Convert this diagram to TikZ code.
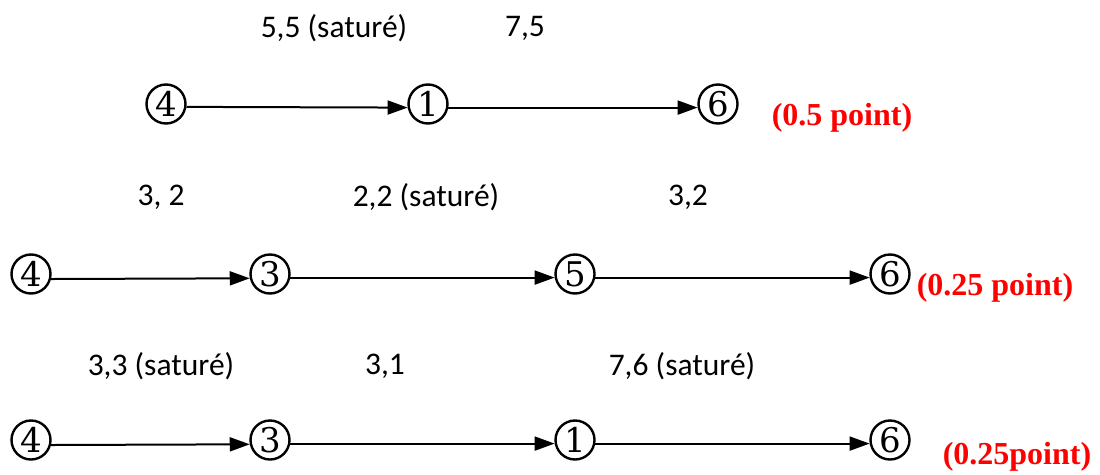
\documentclass[tikz,border=0pt]{standalone}
\usepackage{fontspec}
\setmainfont{Carlito}
\newfontfamily\redfont{Liberation Serif}
\newfontfamily\digfont{DejaVu Serif}
\usetikzlibrary{arrows.meta}
\begin{document}
\begin{tikzpicture}[x=1pt,y=-1pt,
  vtx/.style={circle,draw,line width=2.4pt,minimum size=39pt,inner sep=0pt,font=\digfont\fontsize{34}{34}\selectfont},
  lbl/.style={font=\fontsize{31.5}{31.5}\selectfont,inner sep=0pt},
  pts/.style={font=\redfont\bfseries\fontsize{32}{32}\selectfont,text=red,inner sep=0pt},
  arc/.style={line width=2pt,-{Triangle[length=20pt,width=14pt]}}]
\useasboundingbox (0,0) rectangle (1100,474);
% row 1
\node[vtx] (a4) at (166,104) {4};
\node[vtx] (a1) at (428,104) {1};
\node[vtx] (a6) at (718,104) {6};
\draw[arc] (a4.-8) -- (a1.190);
\draw[arc] (a1.-10) -- (a6.190);
\node[lbl] (la) at (334,28) {5,5 (saturé)};
\node[lbl] (lb) at (525,28) {7,5};
\node[pts] (pa) at (842,118) {(0.5 point)};
% row 2
\node[vtx] (b4) at (31,274) {4};
\node[vtx] (b3) at (270,274) {3};
\node[vtx] (b5) at (575,274) {5};
\node[vtx] (b6) at (890,274) {6};
\draw[arc] (b4.-14) -- (b3.192);
\draw[arc] (b3.-10) -- (b5.190);
\draw[arc] (b5.-10) -- (b6.190);
\node[lbl] (lc) at (161,197) {3, 2};
\node[lbl] (ld) at (426,197) {2,2 (saturé)};
\node[lbl] (le) at (688,197) {3,2};
\node[pts] (pb) at (995,288) {(0.25 point)};
% row 3
\node[vtx] (c4) at (31,440) {4};
\node[vtx] (c3) at (270,440) {3};
\node[vtx] (c1) at (575,440) {1};
\node[vtx] (c6) at (890,440) {6};
\draw[arc] (c4.-14) -- (c3.192);
\draw[arc] (c3.-10) -- (c1.190);
\draw[arc] (c1.-10) -- (c6.190);
\node[lbl] (lf) at (161,366) {3,3 (saturé)};
\node[lbl] (lg) at (385,366) {3,1};
\node[lbl] (lh) at (682,366) {7,6 (saturé)};
\node[pts] (pc) at (1017,457) {(0.25point)};
\end{tikzpicture}
\end{document}
